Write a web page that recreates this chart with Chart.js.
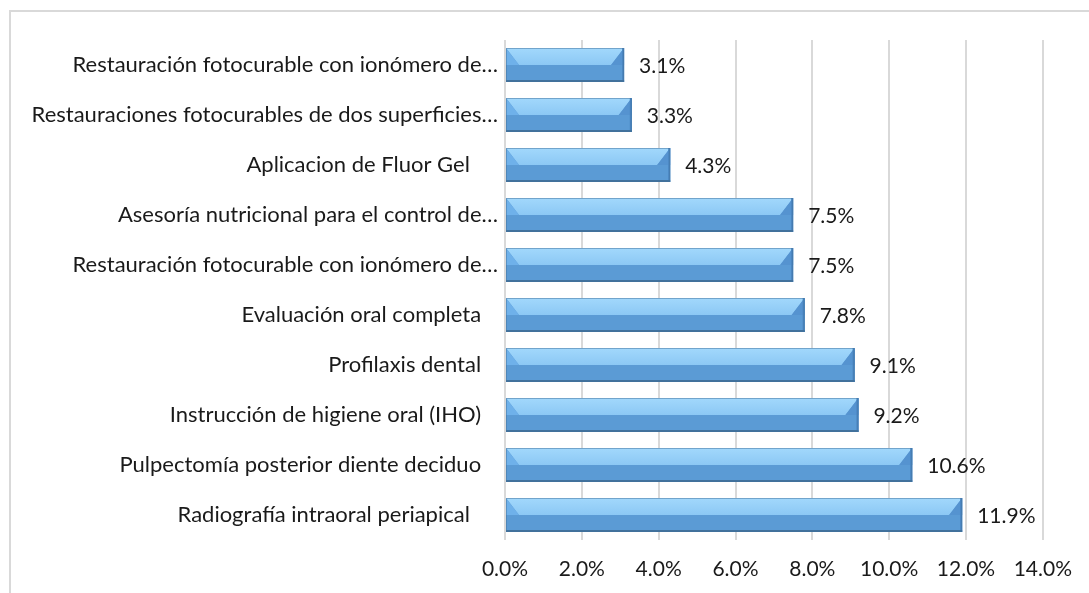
<!DOCTYPE html>
<html>
<head>
<meta charset="utf-8">
<script src="https://cdn.jsdelivr.net/npm/chart.js@4.4.1/dist/chart.umd.min.js"></script>
<style>
    html, body { margin: 0; padding: 0; background: #fff; overflow: hidden; }
    #frame {
        position: absolute; left: 9px; top: 10px;
        width: 1200px; height: 700px;
        border: 2px solid #d9d9d9;
    }
    #chart { position: absolute; left: 0; top: 0; }
</style>
</head>
<body>
<div id="frame"></div>
<canvas id="chart" width="1089" height="593"></canvas>
<script>
// kategorien von oben nach unten (leerzeichen am ende wie im original)
const categories = [
    "Restauración fotocurable con ionómero de…",
    "Restauraciones fotocurables de dos superficies…",
    "Aplicacion de Fluor Gel     ",
    "Asesoría nutricional para el control de…",
    "Restauración fotocurable con ionómero de…",
    "Evaluación oral completa   ",
    "Profilaxis dental   ",
    "Instrucción de higiene oral (IHO)   ",
    "Pulpectomía posterior diente deciduo   ",
    "Radiografía intraoral periapical     "
];
const values = [3.1, 3.3, 4.3, 7.5, 7.5, 7.8, 9.1, 9.2, 10.6, 11.9];
const xTicks = [0, 2, 4, 6, 8, 10, 12, 14];

const FONT = "Lato";
const TEXT = "#1a1a1a";

// 3D-balken (bevel) nachzeichnen
const bevelPlugin = {
    id: "bevel",
    afterDatasetsDraw(chart) {
        const ctx = chart.ctx;
        const meta = chart.getDatasetMeta(0);
        meta.data.forEach(bar => {
            const p = bar.getProps(["x", "y", "base", "height"], true);
            const x0 = p.base, x1 = p.x;
            const yt = p.y - p.height / 2, yb = p.y + p.height / 2, ym = p.y;
            const b = Math.min(13, (x1 - x0) / 2);
            ctx.save();
            // untere flaeche
            ctx.fillStyle = "#5b9bd5";
            ctx.fillRect(x0, yt, x1 - x0, yb - yt);
            // obere flaeche
            const g = ctx.createLinearGradient(0, yt, 0, ym);
            g.addColorStop(0, "#a2d8fc");
            g.addColorStop(1, "#8cc8f4");
            ctx.fillStyle = g;
            ctx.beginPath();
            ctx.moveTo(x0, yt);
            ctx.lineTo(x1, yt);
            ctx.lineTo(x1 - b, ym);
            ctx.lineTo(x0 + b, ym);
            ctx.closePath();
            ctx.fill();
            // linke kante
            ctx.fillStyle = "#6fb1ea";
            ctx.beginPath();
            ctx.moveTo(x0, yt);
            ctx.lineTo(x0 + b, ym);
            ctx.lineTo(x0, ym);
            ctx.closePath();
            ctx.fill();
            // rechte kante
            ctx.fillStyle = "#5593d0";
            ctx.beginPath();
            ctx.moveTo(x1, yt);
            ctx.lineTo(x1 - b, ym);
            ctx.lineTo(x1, ym);
            ctx.closePath();
            ctx.fill();
            ctx.fillStyle = "#4a85c0";
            ctx.fillRect(x1 - 2, yt, 2, yb - yt);
            // schatten unten
            ctx.fillStyle = "#41719c";
            ctx.fillRect(x0, yb - 2, x1 - x0, 2);
            ctx.strokeStyle = "rgba(65,113,156,0.5)";
            ctx.lineWidth = 1;
            ctx.strokeRect(x0 + 0.5, yt + 0.5, x1 - x0 - 1, yb - yt - 1);
            ctx.restore();
        });
    }
};

// werte rechts neben den balken
const valueLabels = {
    id: "valueLabels",
    afterDatasetsDraw(chart) {
        const ctx = chart.ctx;
        const meta = chart.getDatasetMeta(0);
        ctx.save();
        ctx.fillStyle = TEXT;
        ctx.textBaseline = "middle";
        ctx.font = "21px " + FONT;
        ctx.textAlign = "left";
        meta.data.forEach((bar, i) => {
            ctx.fillText(values[i].toFixed(1) + "%", bar.x + 15, bar.y + 1);
        });
        ctx.restore();
    }
};

new Chart(document.getElementById("chart"), {
    type: "bar",
    data: {
        labels: categories,
        datasets: [{
            data: values,
            backgroundColor: "#5b9bd5",
            borderWidth: 0,
            barPercentage: 0.68,
            categoryPercentage: 1
        }]
    },
    options: {
        indexAxis: "y",
        responsive: false,
        animation: false,
        events: [],
        layout: { padding: { left: 0, right: 45, top: 40, bottom: 0 } },
        plugins: {
            legend: { display: false },
            tooltip: { enabled: false }
        },
        scales: {
            x: {
                min: 0,
                max: 14,
                afterBuildTicks: axis => { axis.ticks = xTicks.map(v => ({ value: v })); },
                afterFit: axis => { axis.height = 53; },
                ticks: {
                    padding: 17,
                    color: TEXT,
                    font: { family: FONT, size: 21 },
                    maxRotation: 0,
                    callback: v => v.toFixed(1) + "%"
                },
                grid: { color: "#d9d9d9", lineWidth: 2, drawTicks: false },
                border: { display: false }
            },
            y: {
                afterFit: axis => { axis.width = 505; },
                ticks: {
                    padding: 7,
                    color: TEXT,
                    font: { family: FONT, size: 22 },
                    autoSkip: false
                },
                grid: { display: false, drawTicks: false },
                border: { display: false }
            }
        }
    },
    plugins: [bevelPlugin, valueLabels]
});
</script>
</body>
</html>
